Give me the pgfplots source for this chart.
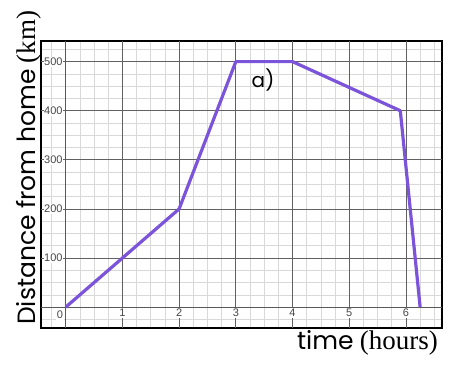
\documentclass[border=0pt]{standalone}
\usepackage{pgfplots}
\pgfplotsset{compat=1.18}
\usepackage{fontspec}
\setmainfont{Liberation Serif}
\newfontfamily\gothic{Poppins}
\newfontfamily\arial{Liberation Sans}
\definecolor{linepurple}{RGB}{123,84,217}
\begin{document}
\begin{tikzpicture}
\useasboundingbox (0,0) rectangle (455pt,366pt);
\begin{axis}[
  at={(40.7pt,37.7pt)}, anchor=south west,
  scale only axis, width=401pt, height=287.3pt,
  xmin=-0.44, xmax=6.63, ymin=-43, ymax=542,
  xtick={-1,0,...,7}, ytick={-100,0,100,...,600},
  xticklabels={}, yticklabels={},
  minor x tick num=3, minor y tick num=3,
  major tick length=0pt, minor tick length=0pt,
  grid=both,
  major grid style={color=black!62, line width=0.8pt},
  minor grid style={color=black!15, line width=0.6pt},
  axis line style={black, line width=1.6pt},
  extra x ticks={1,2,3,4,5,6},
  extra x tick labels={1,2,3,4,5,6},
  extra y ticks={100,200,300,400,500},
  extra y tick labels={100,200,300,400,500},
  extra x tick style={xticklabel style={fill=white, inner xsep=0.6pt, inner ysep=1pt, anchor=north, yshift=20.5pt, font=\arial\fontsize{11}{13}\selectfont, text=black!72}},
  extra y tick style={yticklabel style={fill=white, inner xsep=0.5pt, inner ysep=1pt, anchor=east, xshift=22.5pt, font=\arial\fontsize{11}{13}\selectfont, text=black!72}},
  clip=false,
]
\draw[black!65, line width=1.2pt] (axis cs:0,-43) -- (axis cs:0,542);
\draw[black!65, line width=1.2pt] (axis cs:-0.44,0) -- (axis cs:6.63,0);
\node[fill=white, inner sep=1pt, font=\arial\fontsize{11}{13}\selectfont, text=black!72] at (axis cs:-0.1,-16) {0};
\addplot[linepurple, line width=3.2pt, line join=round, mark=none] coordinates {
  (0,0) (2,200) (3,500) (4,500) (5.9,400) (6.25,0)
};
\node[font=\gothic\fontsize{20}{22}\selectfont] at (axis cs:3.48,463) {a)};
\end{axis}
\node[rotate=90, anchor=base west, inner sep=0pt] at (35pt,41pt) {\fontsize{25}{28}\selectfont{\gothic Distance from home} {\fontsize{27}{30}\selectfont(km)}};
\node[anchor=base east, inner sep=0pt] at (438pt,16pt) {\fontsize{25}{28}\selectfont{\gothic time} {\fontsize{27}{30}\selectfont(hours)}};
\end{tikzpicture}
\end{document}
